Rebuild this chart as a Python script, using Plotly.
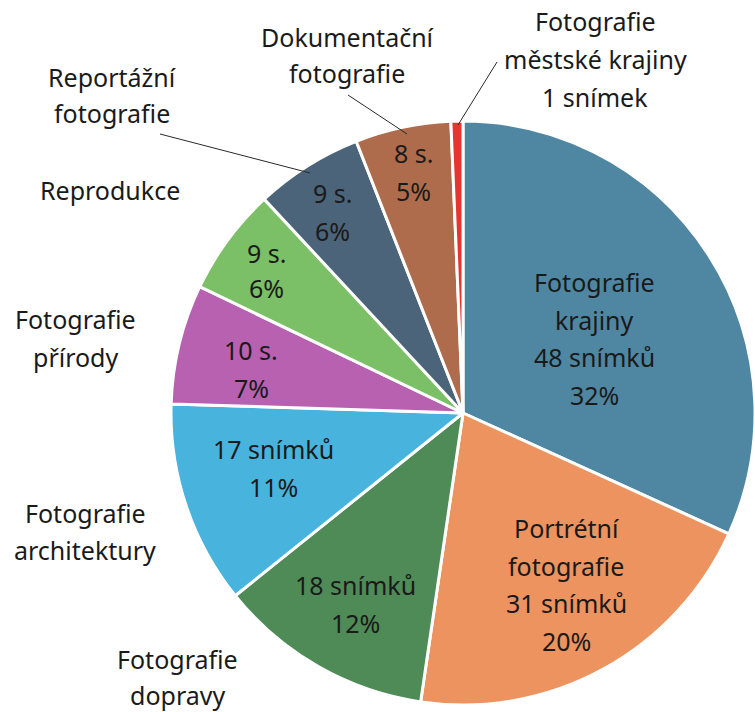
import plotly.graph_objects as go

# ---- data ----
categories = [
    "Fotografie krajiny",
    "Portrétní fotografie",
    "Fotografie dopravy",
    "Fotografie architektury",
    "Fotografie přírody",
    "Reprodukce",
    "Reportážní fotografie",
    "Dokumentační fotografie",
    "Fotografie městské krajiny",
]
values = [48, 31, 18, 17, 10, 9, 9, 8, 1]
count_labels = ["48 snímků", "31 snímků", "18 snímků", "17 snímků", "10 s.", "9 s.", "9 s.", "8 s.", "1 snímek"]
pct_labels = ["32%", "20%", "12%", "11%", "7%", "6%", "6%", "5%", ""]
colors = ["#4F87A2", "#EC935F", "#4F8B57", "#48B4DE", "#B861B0",
          "#7BBF66", "#4B6479", "#AE6C4C", "#E8332F"]

W, H = 755, 712
FONT = "Noto Sans"
FS = 25
TXT = "#1a1a1a"

fig = go.Figure(go.Pie(
    labels=categories,
    values=values,
    sort=False,
    direction="clockwise",
    rotation=0,
    textinfo="none",
    hoverinfo="label+value+percent",
    marker=dict(colors=colors, line=dict(color="white", width=3)),
    domain=dict(x=[171 / W, 1.0], y=[7 / H, 591 / H]),
    showlegend=False,
))

annotations = []


def add_lines(lines, cx, y0, dy=37.5):
    for i, t in enumerate(lines):
        if not t:
            continue
        annotations.append(dict(
            text=t, x=cx / W, y=1 - (y0 + i * dy) / H,
            xref="paper", yref="paper", xanchor="center", yanchor="middle",
            showarrow=False, font=dict(family=FONT, size=FS, color=TXT),
        ))


# inside labels
add_lines(["Fotografie", "krajiny", count_labels[0], pct_labels[0]], 594, 282)
add_lines(["Portrétní", "fotografie", count_labels[1], pct_labels[1]], 566, 528)
add_lines([count_labels[2], pct_labels[2]], 355, 585)
add_lines([count_labels[3], pct_labels[3]], 273, 449)
add_lines([count_labels[4], pct_labels[4]], 251, 350)
add_lines([count_labels[5], pct_labels[5]], 266, 253, 35)
add_lines([count_labels[6], pct_labels[6]], 332, 193)
add_lines([count_labels[7], pct_labels[7]], 413, 153)

# outside labels
add_lines(["Fotografie", "městské krajiny", count_labels[8]], 595, 21, 38)
add_lines(["Dokumentační", "fotografie"], 347, 37, 36)
add_lines(["Reportážní", "fotografie"], 112, 77, 36)
add_lines(["Reprodukce"], 110, 190)
add_lines(["Fotografie", "přírody"], 75, 319, 38)
add_lines(["Fotografie", "architektury"], 85, 513, 37)
add_lines(["Fotografie", "dopravy"], 177, 659, 36)

# leader lines
leaders = [((160, 134), (310, 173)), ((348, 95), (407, 134)), ((497, 62), (458, 125))]
shapes = []
for (x0, y0), (x1, y1) in leaders:
    shapes.append(dict(type="line", xref="paper", yref="paper",
                       x0=x0 / W, y0=1 - y0 / H, x1=x1 / W, y1=1 - y1 / H,
                       line=dict(color="#2a2a2a", width=1)))

fig.update_layout(
    width=W, height=H,
    margin=dict(l=0, r=0, t=0, b=0),
    paper_bgcolor="white", plot_bgcolor="white",
    annotations=annotations, shapes=shapes,
    font=dict(family=FONT),
)

fig.write_html(
    "out.html",
    config={"displayModeBar": False},
    post_script="document.body.style.margin='0';document.body.style.padding='0';"
                "document.body.style.overflow='hidden';"
                "document.documentElement.style.overflow='hidden';",
)
